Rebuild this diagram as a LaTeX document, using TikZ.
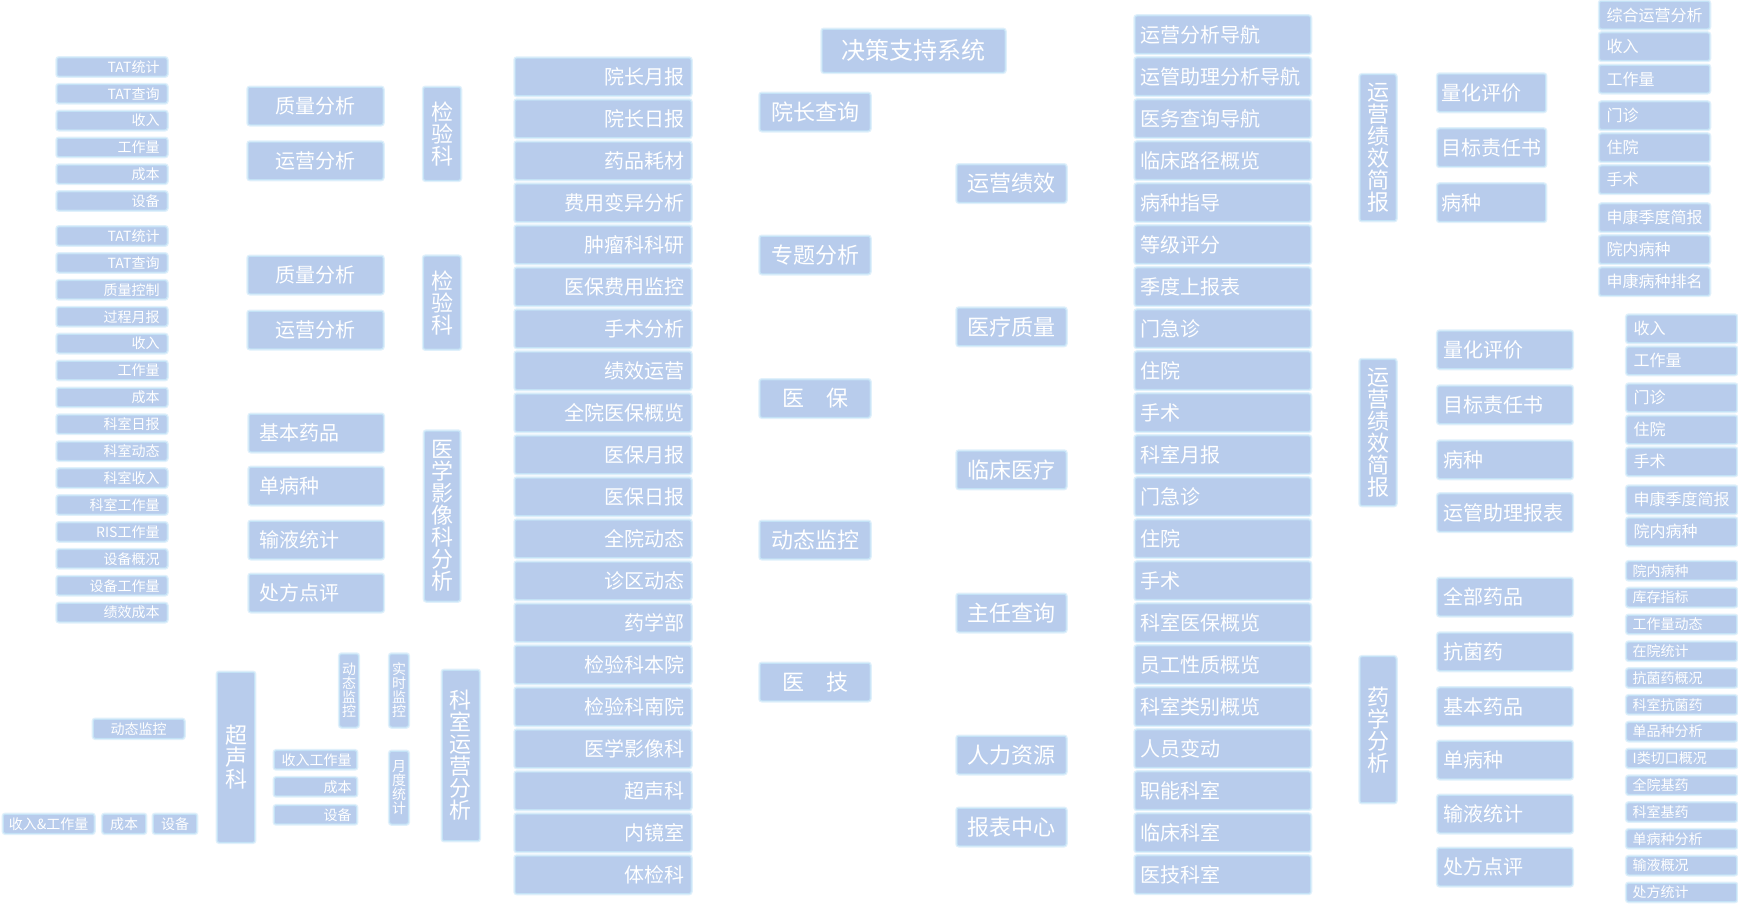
\documentclass[tikz,border=0pt]{standalone}
\usepackage{fontspec}
\setmainfont{Noto Sans CJK SC}
\newcommand\fsz[1]{\fontsize{#1}{#1}\selectfont}
\definecolor{boxfill}{HTML}{B8CCEC}
\definecolor{boxedge}{HTML}{C4E2F6}
\definecolor{glowc}{HTML}{E0F0FB}
\begin{document}
\begin{tikzpicture}[x=1pt,y=-1pt,
  bx/.style={draw=boxedge, fill=boxfill, line width=1pt, rounded corners=2pt, text=white,
             inner ysep=0pt, inner xsep=0pt, preaction={draw=glowc, line width=3.5pt}},
  sml/.style={bx, font=\fsz{14}, minimum height=18.3pt, text width=95pt, inner xsep=7.5pt, align=right},
  ctwo/.style={bx, font=\fsz{20}, minimum height=37.5pt, minimum width=135pt, align=center},
  ctwol/.style={bx, font=\fsz{20}, minimum height=37.5pt, text width=114.3pt, inner xsep=10pt, align=left},
  vb/.style={bx, font=\fsz{22}, minimum width=37pt, align=center},
  vbs/.style={bx, font=\fsz{14}, minimum width=18.6pt, align=center},
  mid/.style={bx, font=\fsz{20}, minimum height=37.5pt, text width=162pt, inner xsep=7pt, align=right},
  cthree/.style={bx, font=\fsz{22}, minimum height=37.5pt, minimum width=110pt, align=center},
  cfour/.style={bx, font=\fsz{22}, minimum height=37.5pt, minimum width=109pt, align=center},
  cfive/.style={bx, font=\fsz{20}, minimum height=37.5pt, text width=165.5pt, inner xsep=5pt, align=left},
  csevA/.style={bx, font=\fsz{20}, minimum height=37.5pt, text width=100pt, inner xsep=4pt, align=left},
  csevB/.style={bx, font=\fsz{20}, minimum height=37.5pt, text width=122.6pt, inner xsep=6pt, align=left},
  rgtA/.style={bx, font=\fsz{16}, minimum height=27.5pt, text width=96pt, inner xsep=7pt, align=left},
  rgtC/.style={bx, font=\fsz{14}, minimum height=18.3pt, text width=98pt, inner xsep=6pt, align=left},
  blc/.style={bx, font=\fsz{14}, minimum height=19pt, align=center},
  blr/.style={bx, font=\fsz{14}, minimum height=18.3pt, text width=72.4pt, inner xsep=5pt, align=right}
]
\fill[white] (0,0) rectangle (1738,903);
\useasboundingbox (0,0) rectangle (1738,903);

% left small column
\foreach \t [count=\i from 0] in {TAT统计,TAT查询,收入,工作量,成本,设备}
  \node[sml] (La\i) at (112,{67+26.8*\i}) {\t};
\foreach \t [count=\i from 0] in {TAT统计,TAT查询,质量控制,过程月报,收入,工作量,成本,科室日报,科室动态,科室收入,科室工作量,RIS工作量,设备概况,设备工作量,绩效成本}
  \node[sml] (Lb\i) at (112,{236+26.9*\i}) {\t};

% column 2
\node[ctwo] (qa1) at (315.5,106) {质量分析};
\node[ctwo] (yy1) at (315.5,160.8) {运营分析};
\node[ctwo] (qa2) at (315.5,275) {质量分析};
\node[ctwo] (yy2) at (315.5,330) {运营分析};
\node[ctwol] (jbyp) at (316.2,433) {基本药品};
\node[ctwol] (dbz) at (316.2,486) {单病种};
\node[ctwol] (sytj) at (316.2,540) {输液统计};
\node[ctwol] (cfdp) at (316.2,593) {处方点评};

% vertical
\node[vb, minimum height=93pt] (jyk1) at (442,133.8) {检\\验\\科};
\node[vb, minimum height=93pt] (jyk2) at (442,302.7) {检\\验\\科};
\node[vb, minimum width=35.5pt, minimum height=170pt] (yxfx) at (442.2,516) {医\\学\\影\\像\\科\\分\\析};

% middle column
\foreach \t [count=\i from 0] in {院长月报,院长日报,药品耗材,费用变异分析,肿瘤科科研,医保费用监控,手术分析,绩效运营,全院医保概览,医保月报,医保日报,全院动态,诊区动态,药学部,检验科本院,检验科南院,医学影像科,超声科,内镜室,体检科}
  \node[mid] (M\i) at (603,{76.8+42*\i}) {\t};

% column 3
\node[bx, minimum width=183pt, minimum height=43pt, font=\fsz{24}] (root) at (913.5,50.8) {决策支持系统};
\node[cthree] (yzcx) at (815,112) {院长查询};
\node[cthree] (ztfx) at (815,255) {专题分析};
\node[cthree] (yb) at (815,398.5) {医\hspace{1em}保};
\node[cthree] (dtjk) at (815,540) {动态监控};
\node[cthree] (yj) at (815,682) {医\hspace{1em}技};

% column 4
\node[cfour] (yyjx) at (1011.5,183.5) {运营绩效};
\node[cfour] (ylzl) at (1011.5,326.8) {医疗质量};
\node[cfour] (lcyl) at (1011.5,469.8) {临床医疗};
\node[cfour] (zrcx) at (1011.5,613) {主任查询};
\node[cfour] (rlzy) at (1011.5,755) {人力资源};
\node[cfour] (bbzx) at (1011.5,827) {报表中心};

% column 5
\foreach \t [count=\i from 0] in {运营分析导航,运管助理分析导航,医务查询导航,临床路径概览,病种指导,等级评分,季度上报表,门急诊,住院,手术,科室月报,门急诊,住院,手术,科室医保概览,员工性质概览,科室类别概览,人员变动,职能科室,临床科室,医技科室}
  \node[cfive] (F\i) at (1222.75,{34.7+42*\i}) {\t};

% column 6 vertical
\node[vb, minimum width=36pt, minimum height=146pt] (jb1) at (1378,147.7) {运\\营\\绩\\效\\简\\报};
\node[vb, minimum width=36pt, minimum height=146pt] (jb2) at (1378,432.5) {运\\营\\绩\\效\\简\\报};
\node[vb, minimum width=36pt, minimum height=146pt] (yxfx2) at (1378,729.7) {药\\学\\分\\析};

% column 7
\node[csevA] (lh1) at (1491.6,92.8) {量化评价};
\node[csevA] (mb1) at (1491.6,147.7) {目标责任书};
\node[csevA] (bz1) at (1491.6,202.7) {病种};
\node[csevB] (lh2) at (1505,349.8) {量化评价};
\node[csevB] (mb2) at (1505,404.8) {目标责任书};
\node[csevB] (bz2) at (1505,459.8) {病种};
\node[csevB] (yg2) at (1505,512.7) {运管助理报表};
\node[csevB] (qbyp) at (1505,597) {全部药品};
\node[csevB] (kjy) at (1505,651.8) {抗菌药};
\node[csevB] (jbyp2) at (1505,706.7) {基本药品};
\node[csevB] (dbz2) at (1505,760) {单病种};
\node[csevB] (sytj2) at (1505,814) {输液统计};
\node[csevB] (cfdp2) at (1505,867) {处方点评};

% right column
\foreach \t/\y [count=\i from 0] in {综合运营分析/15,收入/46.7,工作量/79,门诊/115.7,住院/147.7,手术/179.7,申康季度简报/217.7,院内病种/249.7,申康病种排名/281.7}
  \node[rgtA] (RA\i) at (1654.5,\y) {\t};
\foreach \t/\y [count=\i from 0] in {收入/328.8,工作量/360.8,门诊/397.8,住院/429.8,手术/461.8,申康季度简报/499.8,院内病种/531.8}
  \node[rgtA] (RB\i) at (1681.7,\y) {\t};
\foreach \t [count=\i from 0] in {院内病种,库存指标,工作量动态,在院统计,抗菌药概况,科室抗菌药,单品种分析,I类切口概况,全院基药,科室基药,单病种分析,输液概况,处方统计}
  \node[rgtC] (RC\i) at (1681.7,{570.8+26.8*\i}) {\t};

% bottom left
\node[blc, minimum width=90.7pt] (bdt) at (138.7,728.8) {动态监控};
\node[blc, minimum width=90.7pt] (bsr) at (48.7,823.8) {收入\&工作量};
\node[blc, minimum width=43pt] (bcb) at (124.2,823.8) {成本};
\node[blc, minimum width=43.4pt] (bsb) at (175,823.8) {设备};
\node[vb, minimum width=37.4pt, minimum height=170pt] (csk) at (236,757.3) {超\\声\\科};
\node[vbs, minimum height=73pt] (vdt) at (349,690.5) {动\\态\\监\\控};
\node[vbs, minimum height=73pt] (vss) at (399,690.5) {实\\时\\监\\控};
\node[vbs, minimum height=72.7pt] (vyd) at (399,787.7) {月\\度\\统\\计};
\node[blr] (bsr2) at (315.5,759.8) {收入工作量};
\node[blr] (bcb2) at (315.5,786.8) {成本};
\node[blr] (bsb2) at (315.5,814.8) {设备};
\node[vb, minimum height=170.4pt] (ksyy) at (460.8,755.5) {科\\室\\运\\营\\分\\析};
\end{tikzpicture}
\end{document}
